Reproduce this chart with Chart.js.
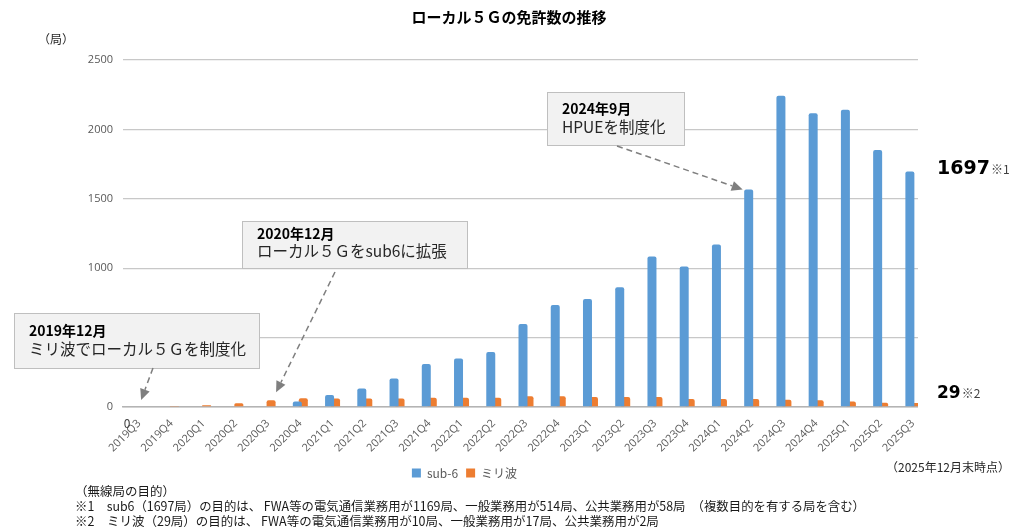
<!DOCTYPE html>
<html lang="ja">
<head>
<meta charset="utf-8">
<script src="https://cdn.jsdelivr.net/npm/chart.js@4/dist/chart.umd.min.js"></script>
<style>
  html, body { margin: 0; padding: 0; background: #fff; }
  #wrap { position: relative; width: 1016px; height: 529px; }
  canvas { position: absolute; left: 0; top: 0; }
</style>
</head>
<body>
<div id="wrap"><canvas id="chart" width="1016" height="529"></canvas></div>
<script>
/* Local 5G licence counts by quarter: sub-6 vs millimetre wave */

const quarters = [
  '2019Q3', '2019Q4', '2020Q1', '2020Q2', '2020Q3', '2020Q4',
  '2021Q1', '2021Q2', '2021Q3', '2021Q4', '2022Q1', '2022Q2',
  '2022Q3', '2022Q4', '2023Q1', '2023Q2', '2023Q3', '2023Q4',
  '2024Q1', '2024Q2', '2024Q3', '2024Q4', '2025Q1', '2025Q2', '2025Q3',
];
const sub6 = [
  0, 0, 0, 0, 0, 39,
  86, 133, 205, 310, 350, 396,
  598, 735, 778, 863, 1085, 1013,
  1170, 1567, 2242, 2116, 2142, 1852, 1697,
];
const mmWave = [
  0, 7, 12, 27, 48, 63,
  62, 62, 62, 66, 66, 66,
  77, 77, 72, 72, 72, 58,
  58, 58, 53, 48, 39, 30, 29,
];
const yTicks = [0, 500, 1000, 1500, 2000, 2500];
const seriesNames = ['sub-6', 'ミリ波'];

const JP = '"Noto Sans CJK JP", sans-serif';
const BLUE = '#5b9bd5';
const ORANGE = '#ed7d31';

const footnotes = [
  '（無線局の目的）',
  '※1　sub6（1697局）の目的は、 FWA等の電気通信業務用が1169局、一般業務用が514局、公共業務用が58局　（複数目的を有する局を含む）',
  '※2　ミリ波（29局）の目的は、 FWA等の電気通信業務用が10局、一般業務用が17局、公共業務用が2局',
];

// callout boxes; arrow tip is taken from the bar element it points at
const callouts = [
  { head: '2019年12月', body: 'ミリ波でローカル５Ｇを制度化', box: [14, 313, 245, 55],
    base: [29, 336, 355], from: [153, 368], ds: 1, idx: 0, off: [-1, -7] },
  { head: '2020年12月', body: 'ローカル５Ｇをsub6に拡張', box: [242, 221, 225, 47],
    base: [257, 239, 257], from: [335, 272], ds: 1, idx: 4, off: [5, -8] },
  { head: '2024年9月', body: 'HPUEを制度化', box: [547, 92, 137, 53],
    base: [562, 114, 133], from: [617, 146], ds: 0, idx: 19, off: [-6, 0] },
];

function arrow(ctx, x1, y1, x2, y2) {
  const ang = Math.atan2(y2 - y1, x2 - x1);
  const hl = 11, hw = 5;
  const bx = x2 - hl * Math.cos(ang), by = y2 - hl * Math.sin(ang);
  ctx.save();
  ctx.strokeStyle = '#7f7f7f';
  ctx.fillStyle = '#7f7f7f';
  ctx.lineWidth = 1.5;
  ctx.setLineDash([6, 4]);
  ctx.beginPath(); ctx.moveTo(x1, y1); ctx.lineTo(bx, by); ctx.stroke();
  ctx.setLineDash([]);
  ctx.beginPath();
  ctx.moveTo(x2, y2);
  ctx.lineTo(bx + hw * Math.sin(ang), by - hw * Math.cos(ang));
  ctx.lineTo(bx - hw * Math.sin(ang), by + hw * Math.cos(ang));
  ctx.closePath(); ctx.fill();
  ctx.restore();
}

const overlay = {
  id: 'overlay',
  afterDatasetsDraw(chart) {
    const { ctx, chartArea } = chart;
    ctx.save();

    // white panel behind the right-hand totals
    ctx.fillStyle = '#fff';
    ctx.fillRect(chartArea.right - 11, chartArea.top - 5, 120, chartArea.bottom - chartArea.top + 8);

    // zero label under the first quarter
    const first = chart.getDatasetMeta(0).data[0];
    ctx.fillStyle = '#404040';
    ctx.font = '12px ' + JP;
    ctx.textAlign = 'center';
    ctx.textBaseline = 'alphabetic';
    ctx.fillText(String(sub6[0]), first.x - 9, chartArea.bottom + 21);
    ctx.textAlign = 'left';

    for (const c of callouts) {
      const [bx, by, bw, bh] = c.box;
      ctx.fillStyle = '#f2f2f2';
      ctx.fillRect(bx, by, bw, bh);
      ctx.strokeStyle = '#bfbfbf';
      ctx.lineWidth = 1;
      ctx.strokeRect(bx + 0.5, by + 0.5, bw, bh);
      ctx.fillStyle = '#000';
      ctx.font = 'bold 14px ' + JP;
      ctx.fillText(c.head, c.base[0], c.base[1]);
      ctx.fillStyle = '#262626';
      ctx.font = '15.5px ' + JP;
      ctx.fillText(c.body, c.base[0], c.base[2]);
      const el = chart.getDatasetMeta(c.ds).data[c.idx];
      arrow(ctx, c.from[0], c.from[1], el.x + c.off[0], el.y + c.off[1]);
    }

    // totals at the right
    const last = quarters.length - 1;
    const totals = [
      [sub6[last], '※1', 'bold 19px "DejaVu Sans", sans-serif', chart.scales.y.getPixelForValue(sub6[last]) + 3],
      [mmWave[last], '※2', 'bold 17px "DejaVu Sans", sans-serif', chart.scales.y.getPixelForValue(0) - 9],
    ];
    for (const [v, mark, font, y] of totals) {
      ctx.fillStyle = '#000';
      ctx.font = font;
      const s = String(v);
      ctx.fillText(s, 937, y);
      const w = ctx.measureText(s).width;
      ctx.fillStyle = '#404040';
      ctx.font = '12px ' + JP;
      ctx.fillText(mark, 937 + w + 1, y);
    }

    // title, unit, note
    ctx.fillStyle = '#000';
    ctx.font = 'bold 15px ' + JP;
    ctx.textAlign = 'center';
    ctx.fillText('ローカル５Ｇの免許数の推移', 509, 23);
    ctx.textAlign = 'left';
    ctx.fillStyle = '#262626';
    ctx.font = '12px ' + JP;
    ctx.fillText('（局）', 38, 44);
    ctx.textAlign = 'right';
    ctx.fillText('（2025年12月末時点）', 1010, 472);
    ctx.textAlign = 'left';

    ctx.fillStyle = '#1a1a1a';
    ctx.font = '12.5px ' + JP;
    footnotes.forEach((t, i) => ctx.fillText(t, 75, 496 + i * 15, 790));

    ctx.restore();
  },
};

new Chart(document.getElementById('chart'), {
  type: 'bar',
  data: {
    labels: quarters,
    datasets: [
      { label: seriesNames[0], data: sub6, backgroundColor: BLUE },
      { label: seriesNames[1], data: mmWave, backgroundColor: ORANGE },
    ],
  },
  options: {
    responsive: false,
    animation: false,
    devicePixelRatio: 1,
    layout: { padding: { left: 0, top: 60, right: 87, bottom: 40 } },
    datasets: {
      bar: {
        barPercentage: 1.5,
        categoryPercentage: 0.372,
        borderRadius: { topLeft: 2, topRight: 2 },
        borderSkipped: 'start',
      },
    },
    plugins: {
      title: { display: false },
      tooltip: { enabled: false },
      legend: {
        position: 'bottom',
        labels: {
          boxWidth: 9, boxHeight: 9, padding: 8,
          color: '#595959',
          font: { family: JP, size: 12 },
        },
      },
    },
    scales: {
      x: {
        grid: { display: false },
        border: { color: '#b4b4b4', width: 1.5 },
        ticks: {
          color: '#595959', autoSkip: false, minRotation: 45, maxRotation: 45,
          padding: 2, font: { family: '"Open Sans", sans-serif', size: 11 },
        },
        afterFit(s) { s.height = 52; },
      },
      y: {
        min: yTicks[0],
        max: yTicks[yTicks.length - 1],
        afterBuildTicks(s) { s.ticks = yTicks.map((v) => ({ value: v })); },
        grid: { color: '#c8c8c8', lineWidth: 1.3, drawTicks: false },
        border: { display: false },
        ticks: {
          color: '#595959', padding: 10,
          font: { family: '"Open Sans", sans-serif', size: 11 },
          callback: (v) => String(v),
        },
        afterFit(s) { s.width = 123; },
      },
    },
  },
  plugins: [overlay],
});
</script>
</body>
</html>
